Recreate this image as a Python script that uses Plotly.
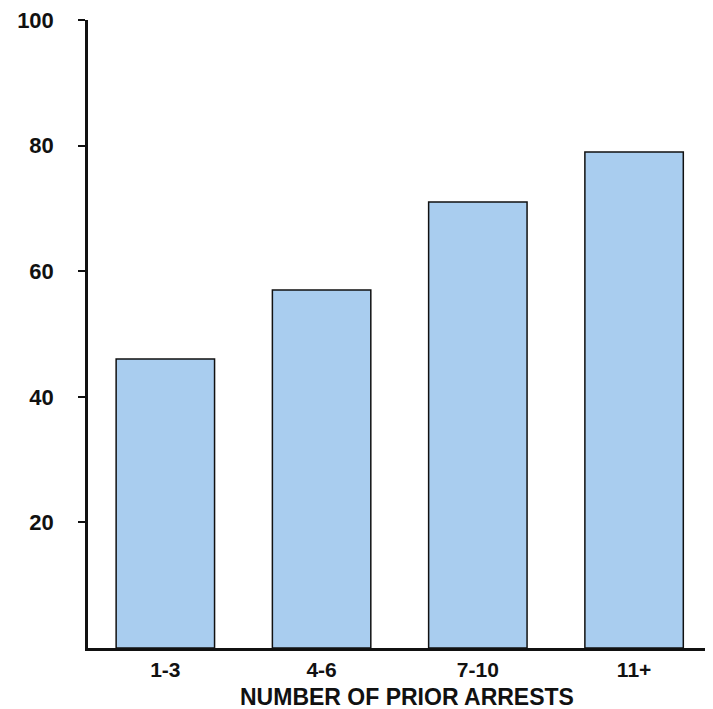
import plotly.graph_objects as go

categories = ["1-3", "4-6", "7-10", "11+"]
values = [46, 57, 71, 79]
y_ticks = [20, 40, 60, 80, 100]
x_title = "NUMBER OF PRIOR ARRESTS"

FONT = "Liberation Sans, Arial, Helvetica, sans-serif"

fig = go.Figure()
fig.add_trace(go.Bar(
    x=categories,
    y=values,
    width=0.63,
    marker=dict(color="#a9cdef", line=dict(color="#111111", width=1.5)),
    hoverinfo="x+y",
))

fig.update_layout(
    width=705,
    height=701,
    margin=dict(l=80, r=0, t=12, b=61),
    paper_bgcolor="white",
    plot_bgcolor="white",
    showlegend=False,
    bargap=0.37,
    xaxis=dict(
        type="category",
        range=[-0.495, 3.505],
        automargin=False,
        showline=True,
        linecolor="#111111",
        linewidth=2.5,
        showgrid=False,
        zeroline=False,
        ticks="",
        ticklabelstandoff=1,
        ticklabeloverflow="allow",
        tickfont=dict(family=FONT, size=21, color="#111111", weight="bold"),
    ),
    yaxis=dict(
        range=[0, 100],
        automargin=False,
        tickvals=y_ticks,
        ticktext=[str(v) for v in y_ticks],
        showline=True,
        linecolor="#111111",
        linewidth=2.5,
        showgrid=False,
        zeroline=False,
        ticks="outside",
        ticklen=7,
        tickwidth=2,
        tickcolor="#111111",
        ticklabelstandoff=20,
        ticklabeloverflow="allow",
        tickfont=dict(family=FONT, size=22, color="#111111", weight="bold"),
    ),
    annotations=[dict(
        text=x_title,
        xref="paper", yref="paper",
        x=0.51, y=0,
        xanchor="center", yanchor="top",
        yshift=-34,
        showarrow=False,
        font=dict(family=FONT, size=23, color="#111111", weight="bold"),
    )],
)

fig.write_html("out.html")
